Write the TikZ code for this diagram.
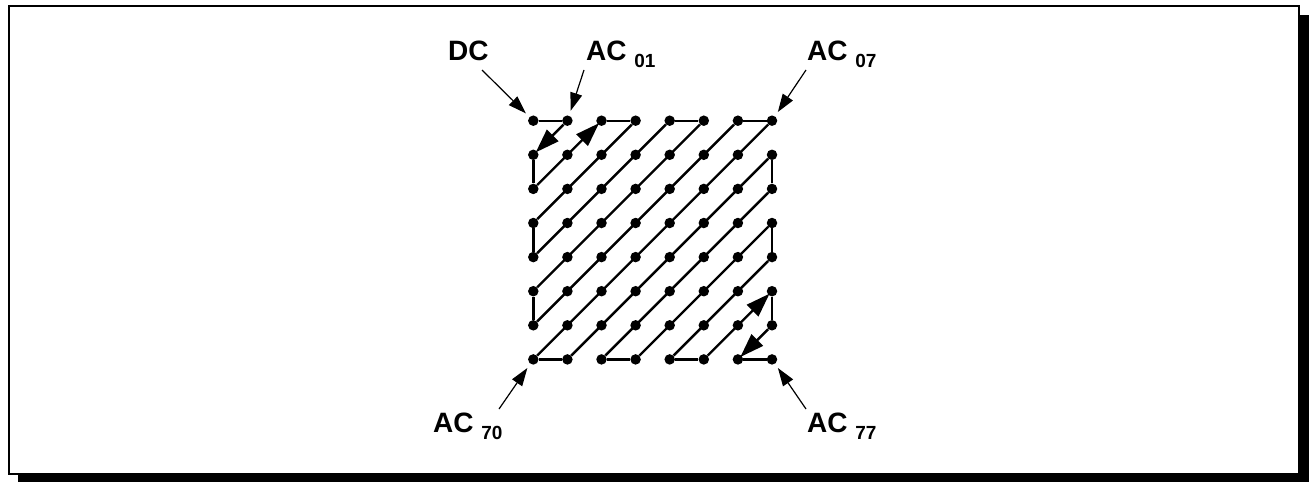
\documentclass[tikz,border=0pt]{standalone}
\usepackage{fontspec}
\setmainfont{Liberation Sans}
\usetikzlibrary{arrows.meta}
\tikzset{
  gdot/.style={fill, circle, minimum size=10.5pt, inner sep=0pt
  },
  lbl/.style={anchor=base west, inner sep=0pt,
    font=\fontsize{28pt}{28pt}\selectfont\bfseries
  },
  zig/.style={line width=2.4pt},
  zarr/.style={line width=2.4pt, -{Triangle[length=24pt,width=16pt]}, shorten >=-2pt},
  callout/.style={line width=1.2pt, -{Triangle[length=18pt,width=12pt]}, shorten >=5pt}
}
\newcommand{\acsub}[1]{AC \raisebox{-7pt}{\fontsize{19pt}{19pt}\selectfont #1}}

\begin{document}
\begin{tikzpicture}[x=1pt,y=-1pt]
 \useasboundingbox (0,0) rectangle (1309,482);
 \fill (18,15) rectangle (1309,482);
 \draw[line width=2.5pt,fill=white] (9,6) rectangle (1299,474);

 \foreach \r in {0,...,7} {
   \foreach \c in {0,...,7} {
     \node[gdot] (d\r\c) at (533.3+34.1*\c, 120.7+34.1*\r) {};
   }
 }

 \node[lbl] (dc) at (448,60) {DC};
 \node[lbl] (ac01) at (586,60) {\acsub{01}};
 \node[lbl] (ac07) at (807,60) {\acsub{07}};
 \node[lbl] (ac70) at (433,432) {\acsub{70}};
 \node[lbl] (ac77) at (807,432) {\acsub{77}};

 \coordinate (dc-t) at (482,70);
 \coordinate (ac01-t) at (584,70);
 \coordinate (ac07-t) at (806,70);
 \coordinate (ac70-t) at (499,409);
 \coordinate (ac77-t) at (806,409);

 \foreach \a/\b in {00/01, 02/03, 04/05, 06/07, 10/20, 30/40, 50/60,
   70/71, 72/73, 74/75, 76/77, 17/27, 37/47, 57/67} {
   \draw[zig] (d\a) -- (d\b);
 }
 \foreach \k in {3,...,7} {
   \draw[zig] (d0\k) -- (d\k0);
 }
 \foreach \k in {1,...,4} {
   \draw[zig] (d\k7) -- (d7\k);
 }
 \draw[zarr] (d01) -- (d10);
 \draw[zarr] (d20) -- (d02);
 \draw[zarr] (d75) -- (d57);
 \draw[zarr] (d67) -- (d76);

 \draw[callout] (dc-t) -- (d00);
 \draw[callout] (ac01-t) -- (d01);
 \draw[callout] (ac07-t) -- (d07);
 \draw[callout] (ac70-t) -- (d70);
 \draw[callout] (ac77-t) -- (d77);
\end{tikzpicture}
\end{document}
